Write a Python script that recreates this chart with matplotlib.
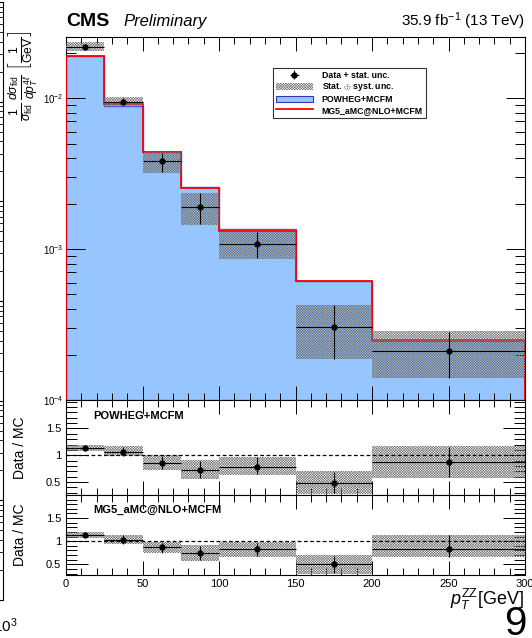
import numpy as np
import matplotlib
matplotlib.use("Agg")
import matplotlib.pyplot as plt
from matplotlib.ticker import MultipleLocator, FixedLocator, FuncFormatter, LogLocator, NullFormatter
from matplotlib.patches import Patch
from matplotlib.lines import Line2D

plt.rcParams['font.family'] = ['Liberation Sans', 'DejaVu Sans']
plt.rcParams['mathtext.fontset'] = 'custom'
plt.rcParams['mathtext.rm'] = 'Liberation Sans'
plt.rcParams['mathtext.it'] = 'Liberation Sans:italic'
plt.rcParams['mathtext.bf'] = 'Liberation Sans:bold'
plt.rcParams['hatch.linewidth'] = 0.4

# bins in pT(ZZ) [GeV]
edges = [0, 25, 50, 75, 100, 150, 200, 300]

# normalised differential cross section
data = [0.0217, 0.00945, 0.00381, 0.00189, 0.00108, 0.000305, 0.000211]
stat_lo = [0.0208, 0.0090, 0.00325, 0.00147, 0.00087, 0.000188, 0.000139]
stat_hi = [0.0228, 0.0100, 0.00435, 0.00234, 0.00129, 0.000423, 0.000284]
tot_lo = [0.0205, 0.0088, 0.00321, 0.00144, 0.00086, 0.000186, 0.000139]
tot_hi = [0.0235, 0.0102, 0.00437, 0.00236, 0.00130, 0.000425, 0.000285]
powheg = [0.0190, 0.0089, 0.0044, 0.00258, 0.00135, 0.000617, 0.000245]
mg5 = [0.0190, 0.0092, 0.0044, 0.00255, 0.00132, 0.000617, 0.000248]

# data / MC ratios
r_pow = [1.13, 1.07, 0.855, 0.73, 0.79, 0.485, 0.875]
r_pow_lo = [1.075, 0.98, 0.73, 0.55, 0.635, 0.28, 0.57]
r_pow_hi = [1.20, 1.175, 1.0, 0.905, 0.97, 0.70, 1.17]
r_pow_slo = [1.09, 0.99, 0.75, 0.57, 0.65, 0.30, 0.59]
r_pow_shi = [1.19, 1.16, 0.98, 0.89, 0.96, 0.68, 1.15]
r_mg5 = [1.145, 1.03, 0.865, 0.735, 0.83, 0.50, 0.843]
r_mg5_lo = [1.08, 0.935, 0.735, 0.57, 0.66, 0.29, 0.65]
r_mg5_hi = [1.20, 1.145, 0.985, 0.91, 0.985, 0.70, 1.145]
r_mg5_slo = [1.10, 0.95, 0.75, 0.59, 0.68, 0.31, 0.67]
r_mg5_shi = [1.19, 1.13, 0.97, 0.89, 0.97, 0.68, 1.13]

e = np.array(edges, dtype=float)
centers = 0.5 * (e[1:] + e[:-1])
widths = e[1:] - e[:-1]
halfw = widths / 2

blue = '#96c5ff'
hatch_col = '#727272'
HATCH = 'x' * 13

W, H = 532, 638
fig = plt.figure(figsize=(W / 100, H / 100), dpi=100)


def box(x0, y0, x1, y1):
    return [x0 / W, 1 - y1 / H, (x1 - x0) / W, (y1 - y0) / H]


ax = fig.add_axes(box(66, 37, 525, 400))
ax1 = fig.add_axes(box(66, 400, 525, 495), sharex=ax)
ax2 = fig.add_axes(box(66, 495, 525, 575), sharex=ax)


def root_style(a, major=10, minor=5):
    a.tick_params(which='both', direction='in', top=True, right=True, width=0.7)
    a.tick_params(which='major', length=major)
    a.tick_params(which='minor', length=minor)
    for s in a.spines.values():
        s.set_linewidth(0.8)


# --- main panel
ax.stairs(powheg, e, fill=True, color=blue, zorder=1)
ax.stairs(powheg, e, color='#5555dd', lw=1.0, zorder=2)
ax.stairs(mg5, e, color='red', lw=1.3, zorder=3)
ax.bar(centers, np.array(tot_hi) - np.array(tot_lo), width=widths, bottom=tot_lo,
       fill=False, hatch=HATCH, edgecolor=hatch_col, linewidth=0, zorder=4)
d = np.array(data)
err = ax.errorbar(centers, d, xerr=halfw, yerr=[d - np.array(stat_lo), np.array(stat_hi) - d],
                  fmt='o', color='black', ms=3.5, lw=0.8, capsize=0, zorder=5)

ax.set_yscale('log')
ax.set_ylim(1e-4, 0.0254)
ax.set_xlim(0, 300)
root_style(ax)
ax.xaxis.set_major_locator(MultipleLocator(50))
ax.xaxis.set_minor_locator(MultipleLocator(10))
ax.yaxis.set_major_locator(LogLocator(base=10, numticks=10))
ax.yaxis.set_minor_locator(LogLocator(base=10, subs=np.arange(2, 10), numticks=20))
ax.yaxis.set_minor_formatter(NullFormatter())
ax.yaxis.set_major_formatter(FuncFormatter(lambda v, p: r'10$^{%d}$' % round(np.log10(v))))
ax.tick_params(axis='y', which='major', length=14)
ax.tick_params(axis='y', which='minor', length=7)
ax.tick_params(axis='y', labelsize=7, pad=2)
ax.tick_params(axis='x', labelbottom=False)

handles = [err,
           Patch(facecolor='white', edgecolor=hatch_col, hatch=HATCH, linewidth=0),
           Patch(facecolor=blue, edgecolor='#3333bb', linewidth=0.8),
           Line2D([], [], color='red', lw=1.3)]
labels = ['Data + stat. unc.', r'Stat. $\oplus$ syst. unc.', 'POWHEG+MCFM', 'MG5_aMC@NLO+MCFM']
leg = ax.legend(handles, labels, loc='upper left', bbox_to_anchor=(0.451, 0.915),
                prop={'weight': 'bold', 'size': 6.3}, frameon=True, fancybox=False,
                edgecolor='black', handlelength=4.2, handleheight=0.8, labelspacing=0.18,
                borderpad=0.35, handletextpad=1.0, borderaxespad=0)
leg.get_frame().set_linewidth(0.8)

# --- ratio panels
for a, r, lo, hi, slo, shi, name in [
        (ax1, r_pow, r_pow_lo, r_pow_hi, r_pow_slo, r_pow_shi, 'POWHEG+MCFM'),
        (ax2, r_mg5, r_mg5_lo, r_mg5_hi, r_mg5_slo, r_mg5_shi, 'MG5_aMC@NLO+MCFM')]:
    r = np.array(r)
    a.bar(centers, np.array(hi) - np.array(lo), width=widths, bottom=lo,
          fill=False, hatch=HATCH, edgecolor=hatch_col, linewidth=0, zorder=2)
    a.axhline(1, color='black', ls='--', lw=0.9, dashes=(3, 2), zorder=3)
    a.errorbar(centers, r, xerr=halfw, yerr=[r - np.array(slo), np.array(shi) - r],
               fmt='o', color='black', ms=3.5, lw=0.8, capsize=0, zorder=4)
    root_style(a)
    a.yaxis.set_major_locator(FixedLocator([0.5, 1.0, 1.5]))
    a.yaxis.set_minor_locator(MultipleLocator(0.1))
    a.yaxis.set_major_formatter(FuncFormatter(lambda v, p: '%g' % v))
    a.tick_params(axis='y', which='major', length=16)
    a.tick_params(axis='y', which='minor', length=8)
    a.tick_params(axis='y', labelsize=8)
    a.set_ylabel('Data / MC', fontsize=10)
    a.text(0.06, 0.88, name, transform=a.transAxes, fontsize=8, fontweight='bold', va='top')

ax1.set_ylim(0.26, 2.03)
ax2.set_ylim(0.27, 2.0)
ax1.tick_params(axis='x', labelbottom=False)
ax2.tick_params(axis='x', labelsize=8, pad=3)
ax1.yaxis.set_label_coords(-0.085, 0.5)
ax2.yaxis.set_label_coords(-0.085, 0.5)

# --- texts
fig.text(66 / W, 1 - 26 / H, 'CMS', fontsize=14, fontweight='bold')
fig.text(123 / W, 1 - 26 / H, 'Preliminary', fontsize=12, style='italic')
fig.text(525 / W, 1 - 26 / H, r'35.9 fb$^{-1}$ (13 TeV)', fontsize=11, ha='right')
fig.text(24 / W, 1 - 30 / H,
         r'$\frac{1}{\sigma_{\mathrm{fid}}}\,\frac{d\sigma_{\mathrm{fid}}}{dp_T^{4\ell}}\;\left[\frac{1}{\mathrm{GeV}}\right]$',
         rotation=90, fontsize=12.5, ha='center', va='top')
fig.text(524 / W, 1 - 605 / H, r'$p_T^{\mathrm{ZZ}}$[GeV]', fontsize=13, ha='right', va='baseline')
fig.text(526 / W, 1 - 635 / H, '9', fontsize=29, ha='right', va='baseline')
fig.text(-0.014, 1 - 632 / H, r'10$^3$', fontsize=11)

# edge of the neighbouring plot at the left border
axl = fig.add_axes([-0.5, 1 - 600 / H, 0.5 + 3 / W, 598 / H])
for k in ['left', 'top', 'bottom']:
    axl.spines[k].set_visible(False)
axl.set_yscale('log')
axl.set_ylim(1e-4, 1e2)
axl.set_xticks([])
axl.tick_params(axis='y', which='both', direction='in', left=False, right=True,
                labelleft=False, labelright=False)
axl.tick_params(which='major', length=8)
axl.tick_params(which='minor', length=4)
axl.yaxis.set_minor_locator(LogLocator(base=10, subs=np.arange(2, 10), numticks=40))

fig.savefig('out.png', dpi=100)
